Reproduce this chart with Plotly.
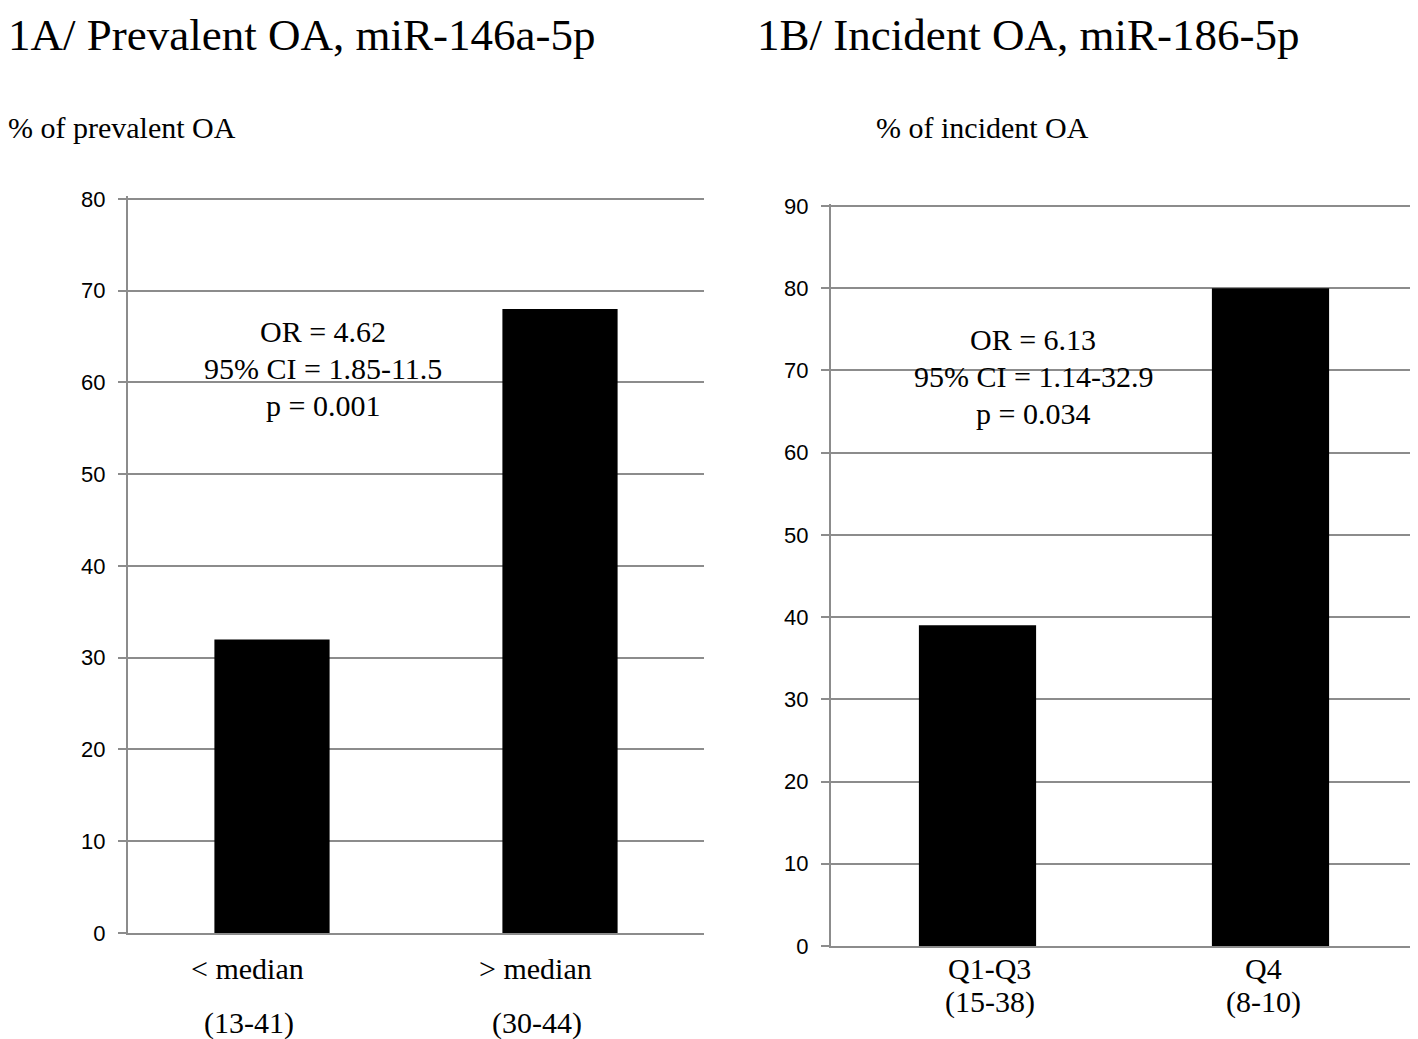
import plotly.graph_objects as go

# ---- data ----
cats_a = ["< median", "> median"]
sub_a = ["(13-41)", "(30-44)"]
vals_a = [32, 68]
stats_a = ["OR = 4.62", "95% CI = 1.85-11.5", "p = 0.001"]
title_a = "1A/ Prevalent OA, miR-146a-5p"
ylab_a = "% of prevalent OA"
ticks_a = [0, 10, 20, 30, 40, 50, 60, 70, 80]

cats_b = ["Q1-Q3", "Q4"]
sub_b = ["(15-38)", "(8-10)"]
vals_b = [39, 80]
stats_b = ["OR = 6.13", "95% CI = 1.14-32.9", "p = 0.034"]
title_b = "1B/ Incident OA, miR-186-5p"
ylab_b = "% of incident OA"
ticks_b = [0, 10, 20, 30, 40, 50, 60, 70, 80, 90]

W, H = 1418, 1039
OFF = 8  # page body margin


def px(x):
    return (x - OFF) / W


def py(y):
    return 1 - (y - OFF) / H


SERIF = "Liberation Serif, Times New Roman, serif"
SANS = "Liberation Sans, Arial, sans-serif"
GRID = "#8c8c8c"

fig = go.Figure()
fig.add_trace(go.Bar(x=cats_a, y=vals_a, width=0.4, marker=dict(color="black", line=dict(width=0)),
                     xaxis="x", yaxis="y", showlegend=False, hoverinfo="x+y"))
fig.add_trace(go.Bar(x=cats_b, y=vals_b, width=0.4, marker=dict(color="black", line=dict(width=0)),
                     xaxis="x2", yaxis="y2", showlegend=False, hoverinfo="x+y"))

yax_common = dict(showgrid=True, gridcolor=GRID, gridwidth=2, showline=True, linecolor=GRID, linewidth=2,
                  ticks="outside", ticklen=8, tickwidth=2, tickcolor=GRID, zeroline=False, automargin=False,
                  tickfont=dict(family=SANS, size=22, color="black"), ticklabelstandoff=8, fixedrange=True)
xax_common = dict(type="category", showline=True, linecolor=GRID, linewidth=2, showticklabels=False,
                  ticks="", showgrid=False, zeroline=False, automargin=False, fixedrange=True)

sa = (933 - 199) / 80.0
sb = (946 - 206) / 90.0
pad = 0.3
fig.update_layout(
    width=W, height=H, margin=dict(l=0, r=0, t=0, b=0, autoexpand=False),
    paper_bgcolor="white", plot_bgcolor="white",
    xaxis=dict(domain=[px(128), px(704)], anchor="y", range=[-0.5, 1.5], **xax_common),
    yaxis=dict(domain=[py(933), py(199 - pad * sa)], anchor="x", range=[0, 80 + pad], tickvals=ticks_a,
               **yax_common),
    xaxis2=dict(domain=[px(831), px(1417)], anchor="y2", range=[-0.5, 1.5], **xax_common),
    yaxis2=dict(domain=[py(946), py(206 - pad * sb)], anchor="x2", range=[0, 90 + pad], tickvals=ticks_b,
                **yax_common),
)

ann = []
tf = dict(family=SERIF, size=45, color="black")
ann.append(dict(text=title_a, xref="paper", yref="paper", x=px(6), y=py(35), xanchor="left", yanchor="middle",
                showarrow=False, font=tf))
ann.append(dict(text=title_b, xref="paper", yref="paper", x=px(755), y=py(35), xanchor="left", yanchor="middle",
                showarrow=False, font=tf))
lf = dict(family=SERIF, size=30, color="black")
ann.append(dict(text=ylab_a, xref="paper", yref="paper", x=px(6), y=py(127), xanchor="left", yanchor="middle",
                showarrow=False, font=lf))
ann.append(dict(text=ylab_b, xref="paper", yref="paper", x=px(874), y=py(127), xanchor="left", yanchor="middle",
                showarrow=False, font=lf))
for i, t in enumerate(stats_a):
    ann.append(dict(text=t, xref="paper", yref="paper", x=px(323), y=py(331 + 37 * i), xanchor="center",
                    yanchor="middle", showarrow=False, font=lf))
for i, t in enumerate(stats_b):
    ann.append(dict(text=t, xref="paper", yref="paper", x=px(1033), y=py(340 + 36.5 * i), xanchor="center",
                    yanchor="middle", showarrow=False, font=lf))
# category labels (tick-label style text under each bar)
for c, s in zip(cats_a, sub_a):
    ann.append(dict(text=c, xref="x", yref="paper", x=c, y=py(968), xshift=-25, xanchor="center",
                    yanchor="middle", showarrow=False, font=lf))
    ann.append(dict(text=s, xref="x", yref="paper", x=c, y=py(1023), xshift=-23, xanchor="center",
                    yanchor="middle", showarrow=False, font=lf))
for c, s, sh in zip(cats_b, sub_b, [12, -7.5]):
    ann.append(dict(text=c, xref="x2", yref="paper", x=c, y=py(968), xshift=sh, xanchor="center",
                    yanchor="middle", showarrow=False, font=lf))
    ann.append(dict(text=s, xref="x2", yref="paper", x=c, y=py(1002), xshift=sh, xanchor="center",
                    yanchor="middle", showarrow=False, font=lf))

fig.update_layout(annotations=ann)
fig.write_html("out.html")
